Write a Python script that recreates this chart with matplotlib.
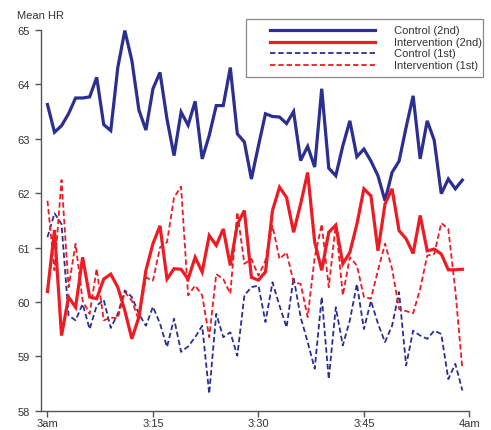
import matplotlib
matplotlib.use("Agg")
import matplotlib.pyplot as plt
from matplotlib.lines import Line2D
from matplotlib.patches import Rectangle
import numpy as np

plt.rcParams['font.family'] = ['Liberation Sans', 'DejaVu Sans']

# minutes after 3am, one reading per minute
minutes = list(range(60))

control_2nd = [63.63, 63.12, 63.24, 63.46, 63.75, 63.75, 63.77, 64.13, 63.26, 63.15,
               64.31, 64.99, 64.44, 63.53, 63.16, 63.92, 64.22, 63.36, 62.69, 63.49,
               63.25, 63.69, 62.63, 63.06, 63.61, 63.61, 64.31, 63.09, 62.94, 62.26,
               62.87, 63.46, 63.41, 63.40, 63.28, 63.50, 62.60, 62.86, 62.48, 63.92,
               62.46, 62.32, 62.87, 63.33, 62.67, 62.81, 62.59, 62.32, 61.86, 62.38,
               62.59, 63.21, 63.79, 62.63, 63.33, 62.97, 61.99, 62.26, 62.08, 62.24]

intervention_2nd = [60.19, 61.32, 59.38, 60.09, 59.90, 60.82, 60.09, 60.06, 60.42, 60.51,
                    60.27, 59.84, 59.32, 59.72, 60.58, 61.07, 61.40, 60.42, 60.61, 60.60,
                    60.42, 60.82, 60.55, 61.22, 61.04, 61.34, 60.67, 61.43, 61.68, 60.45,
                    60.40, 60.55, 61.68, 62.11, 61.92, 61.28, 61.80, 62.38, 61.10, 60.58,
                    61.28, 61.41, 60.70, 60.91, 61.43, 62.08, 61.95, 60.94, 61.80, 62.08,
                    61.31, 61.16, 60.89, 61.59, 60.94, 60.97, 60.88, 60.59, 60.59, 60.60]

control_1st = [61.19, 61.63, 61.43, 59.75, 59.66, 59.96, 59.50, 59.93, 60.04, 59.52,
               59.78, 60.21, 60.09, 59.78, 59.56, 59.91, 59.60, 59.17, 59.69, 59.08,
               59.18, 59.35, 59.56, 58.31, 59.78, 59.35, 59.44, 59.01, 60.12, 60.27,
               60.30, 59.63, 60.36, 59.93, 59.53, 60.45, 59.72, 59.26, 58.77, 60.09,
               58.58, 59.90, 59.20, 59.66, 60.33, 59.50, 60.02, 59.60, 59.26, 59.56,
               60.18, 58.83, 59.47, 59.38, 59.32, 59.47, 59.41, 58.58, 58.86, 58.37]

intervention_1st = [61.86, 60.58, 62.24, 60.27, 61.07, 60.02, 59.78, 60.61, 59.66, 59.71,
                    59.70, 60.18, 60.02, 59.66, 60.45, 60.39, 61.00, 61.10, 61.92, 62.12,
                    60.12, 60.30, 60.12, 59.35, 60.51, 60.42, 60.15, 61.65, 60.70, 60.79,
                    60.48, 60.76, 61.40, 60.79, 60.91, 60.36, 60.33, 59.72, 60.82, 61.43,
                    60.27, 61.43, 60.12, 60.82, 60.67, 60.09, 60.06, 60.58, 61.07, 60.61,
                    59.87, 59.83, 59.79, 60.24, 60.85, 60.88, 61.45, 61.34, 60.21, 58.77]

series_names = ['Control (2nd)', 'Intervention (2nd)', 'Control (1st)', 'Intervention (1st)']

tick_pos = [0, 15, 30, 45, 60]
tick_labels = ['3am', '3:15', '3:30', '3:45', '4am']

blue = '#2b2f8f'
red = '#ed1c24'
W, H = 491, 431

fig = plt.figure(figsize=(W / 100, H / 100), dpi=100)
ax = fig.add_axes([0.0835, 0.045, 0.8725, 0.883])

dash_style = dict(lw=1.3, dashes=(3, 1.6))
solid_style = dict(lw=2.3, solid_joinstyle='miter')
l3, = ax.plot(minutes, control_1st, color=blue, **dash_style)
l4, = ax.plot(minutes, intervention_1st, color=red, **dash_style)
l1, = ax.plot(minutes, control_2nd, color=blue, **solid_style)
l2, = ax.plot(minutes, intervention_2nd, color=red, **solid_style)

ax.set_xlim(-0.92, 60)
ax.set_ylim(58, 65)
ax.set_xticks(tick_pos)
ax.set_xticklabels(tick_labels)
ax.set_yticks(range(58, 66))

for s in ['top', 'right']:
    ax.spines[s].set_visible(False)
for s in ['left', 'bottom']:
    ax.spines[s].set_color('#555555')
    ax.spines[s].set_linewidth(1.0)
ax.tick_params(direction='out', length=4, width=1, color='#555555',
               labelsize=8, labelcolor='#333333')
ax.tick_params(axis='y', pad=4)
ax.tick_params(axis='x', pad=1.5)

fig.text(0.035, 0.963, 'Mean HR', fontsize=8, color='#333333', va='center', ha='left')

# legend box drawn by hand (pixel layout of the original)
def fx(px):
    return px / W

def fy(py):
    return 1 - py / H

fig.add_artist(Rectangle((fx(245.5), fy(78)), fx(483) - fx(245.5), fy(19.5) - fy(78),
                         transform=fig.transFigure, facecolor='white',
                         edgecolor='#888888', lw=0.9))
handles = [(blue, solid_style), (red, solid_style), (blue, dash_style), (red, dash_style)]
row_y = [30.7, 42.7, 54.4, 66.3]
for (c, st), name, ry in zip(handles, series_names, row_y):
    fig.add_artist(Line2D([fx(270), fx(375)], [fy(ry), fy(ry)], color=c,
                          transform=fig.transFigure, **st))
    fig.text(fx(394), fy(ry), name, fontsize=8, color='#333333',
             va='center', ha='left')

fig.savefig('out.png', dpi=100)
